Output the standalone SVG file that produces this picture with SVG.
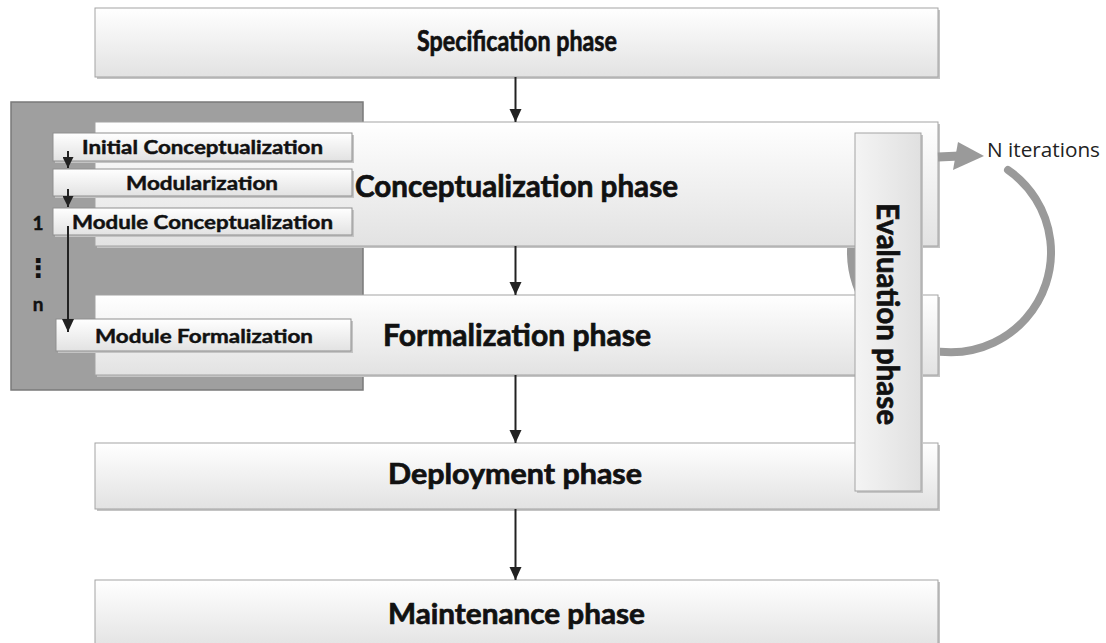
<svg xmlns="http://www.w3.org/2000/svg" width="1106" height="643" viewBox="0 0 1106 643">
<defs>
<linearGradient id="gv" x1="0" y1="0" x2="0" y2="1">
<stop offset="0" stop-color="#ffffff"/>
<stop offset="1" stop-color="#e2e2e2"/>
</linearGradient>
<linearGradient id="gh" x1="0" y1="0" x2="1" y2="0">
<stop offset="0" stop-color="#f4f4f4"/>
<stop offset="1" stop-color="#e0e0e0"/>
</linearGradient>
<marker id="ah" markerWidth="13" markerHeight="13" refX="13" refY="6.5" orient="auto" markerUnits="userSpaceOnUse">
<path d="M0,0.5 L13,6.5 L0,12.5 Z" fill="#222"/>
</marker>
<marker id="ahs" markerWidth="11" markerHeight="11" refX="11" refY="5.5" orient="auto" markerUnits="userSpaceOnUse">
<path d="M0,0 L11,5.5 L0,11 Z" fill="#222"/>
</marker>
</defs>
<style>
.box{fill:url(#gv);stroke:#a3a3a3;stroke-width:1}
.sh{fill:#c4c4c4}
.sub{fill:url(#gv);stroke:#8f8f8f;stroke-width:1}
.big{font-family:Lato,"Open Sans",sans-serif;font-weight:bold;fill:#111;stroke:#111;stroke-width:0.7}
.small{font-family:Lato,"Open Sans",sans-serif;font-weight:bold;font-size:19px;fill:#111;stroke:#111;stroke-width:0.45}
.con{stroke:#222;stroke-width:2;fill:none}
</style>

<g id="specification">
<rect class="sh" x="97" y="10" width="843" height="69"/>
<rect class="box" x="95" y="8" width="843" height="69"/>
<text class="big" x="417" y="51" font-size="29" textLength="200" lengthAdjust="spacingAndGlyphs">Specification phase</text>
</g>

<g id="iteration-loop">
<path d="M1008,170 A100,100 0 1 1 894,170" fill="none" stroke="#9a9a9a" stroke-width="8" stroke-linecap="round"/>
</g>

<g id="panel">
<rect x="11" y="102" width="352" height="288" fill="#9f9f9f" stroke="#7a7a7a" stroke-width="1.5"/>
</g>

<g id="conceptualization">
<rect class="sh" x="97" y="124" width="843" height="124"/>
<rect class="box" x="95" y="122" width="843" height="124"/>
<text class="big" x="355" y="197" font-size="31" textLength="323" lengthAdjust="spacingAndGlyphs">Conceptualization phase</text>
</g>

<g id="formalization">
<rect class="sh" x="97" y="297" width="843" height="80"/>
<rect class="box" x="95" y="295" width="843" height="80"/>
<text class="big" x="383" y="346" font-size="30" textLength="268" lengthAdjust="spacingAndGlyphs">Formalization phase</text>
</g>

<g id="deployment">
<rect class="sh" x="97" y="445" width="843" height="66"/>
<rect class="box" x="95" y="443" width="843" height="66"/>
<text class="big" x="388" y="484" font-size="28" textLength="254" lengthAdjust="spacingAndGlyphs">Deployment phase</text>
</g>

<g id="maintenance">
<rect class="sh" x="97" y="582" width="843" height="70"/>
<rect class="box" x="95" y="580" width="843" height="70"/>
<text class="big" x="388" y="624" font-size="29" textLength="257" lengthAdjust="spacingAndGlyphs">Maintenance phase</text>
</g>

<g id="initial-conceptualization">
<rect class="sh" x="55" y="135" width="299" height="28"/>
<rect class="sub" x="53" y="133" width="299" height="28"/>
<text class="small" x="82" y="154" textLength="241" lengthAdjust="spacingAndGlyphs">Initial Conceptualization</text>
</g>
<g id="modularization">
<rect class="sh" x="55" y="171" width="299" height="27"/>
<rect class="sub" x="53" y="169" width="299" height="27"/>
<text class="small" x="126" y="190" textLength="152" lengthAdjust="spacingAndGlyphs">Modularization</text>
</g>
<g id="module-conceptualization">
<rect class="sh" x="55" y="210" width="299" height="27"/>
<rect class="sub" x="53" y="208" width="299" height="27"/>
<text class="small" x="72" y="229" textLength="261" lengthAdjust="spacingAndGlyphs">Module Conceptualization</text>
</g>
<g id="module-formalization">
<rect class="sh" x="58" y="321" width="295" height="32"/>
<rect class="sub" x="56" y="319" width="295" height="32"/>
<text class="small" x="95" y="343" textLength="218" lengthAdjust="spacingAndGlyphs">Module Formalization</text>
</g>

<g id="module-counter">
<text class="small" x="38" y="230" text-anchor="middle" font-size="19">1</text>
<text x="38" y="277" text-anchor="middle" font-family="'DejaVu Sans',sans-serif" font-weight="bold" font-size="26" fill="#111">⋮</text>
<text class="small" x="38" y="311" text-anchor="middle" font-size="19">n</text>
</g>

<g id="evaluation">
<rect x="857" y="135" width="66" height="358" fill="#c4c4c4"/>
<rect x="855" y="133" width="66" height="358" fill="url(#gh)" stroke="#a3a3a3" stroke-width="1"/>
<text class="big" transform="translate(877,203) rotate(90)" x="0" y="0" font-size="31" textLength="222" lengthAdjust="spacingAndGlyphs">Evaluation phase</text>
</g>

<g id="connectors">
<line class="con" x1="515.5" y1="77" x2="515.5" y2="122" marker-end="url(#ah)"/>
<line class="con" x1="515.5" y1="246" x2="515.5" y2="295" marker-end="url(#ah)"/>
<line class="con" x1="515.5" y1="375" x2="515.5" y2="443" marker-end="url(#ah)"/>
<line class="con" x1="515.5" y1="509" x2="515.5" y2="580" marker-end="url(#ah)"/>
<line class="con" x1="68" y1="151" x2="68" y2="168" marker-end="url(#ahs)"/>
<line class="con" x1="68" y1="189" x2="68" y2="207" marker-end="url(#ahs)"/>
<line class="con" x1="68" y1="226" x2="68" y2="332" marker-end="url(#ah)"/>
<line x1="938" y1="157" x2="960" y2="156" stroke="#9a9a9a" stroke-width="9"/>
<polygon points="958,142 984,156 953,170" fill="#9a9a9a"/>
</g>

<g id="n-iterations">
<text x="987" y="157" font-family="'Open Sans',Lato,sans-serif" font-size="20" fill="#222" textLength="113" lengthAdjust="spacingAndGlyphs">N iterations</text>
</g>
</svg>
